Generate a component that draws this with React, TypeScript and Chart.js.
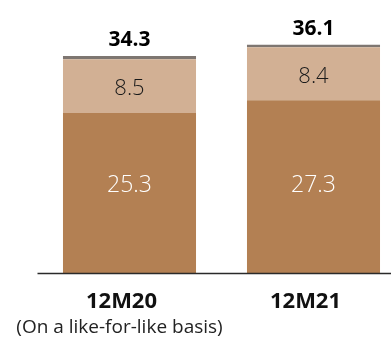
import React, { useEffect, useRef } from "react";
import { Chart, registerables } from "chart.js";

Chart.register(...registerables);

const categories = ["12M20", "12M21"];
const subtitles = ["(On a like-for-like basis)", ""];
const baseValues = [25.3, 27.3];
const midValues = [8.5, 8.4];
const otherValues = [0.5, 0.4];
const totals = [34.3, 36.1];

const DARK = "#B38053";
const LIGHT = "#D2B094";
const GREY = "#7E7671";
const FONT = "'Open Sans', sans-serif";

const labelPlugin = {
  id: "barLabels",
  afterDatasetsDraw(chart: any) {
    const ctx = chart.ctx as CanvasRenderingContext2D;
    const area = chart.chartArea;
    ctx.save();

    // baseline axis
    ctx.strokeStyle = "#2a2a2a";
    ctx.lineWidth = 1.5;
    ctx.beginPath();
    ctx.moveTo(area.left, area.bottom + 0.5);
    ctx.lineTo(area.right, area.bottom + 0.5);
    ctx.stroke();

    ctx.textAlign = "center";
    const m0 = chart.getDatasetMeta(0);
    const m1 = chart.getDatasetMeta(1);
    const m2 = chart.getDatasetMeta(2);

    categories.forEach((cat, i) => {
      const b0 = m0.data[i];
      const b1 = m1.data[i];
      const b2 = m2.data[i];

      // inner segment values
      ctx.textBaseline = "middle";
      ctx.font = `300 23px ${FONT}`;
      ctx.fillStyle = "#ffffff";
      ctx.fillText(baseValues[i].toFixed(1), b0.x, area.bottom - 88);
      ctx.font = `300 22px ${FONT}`;
      ctx.fillStyle = "#1a1a1a";
      ctx.fillText(midValues[i].toFixed(1), b1.x, (b1.y + b1.base) / 2 + 3);

      // totals above the stack
      ctx.textBaseline = "alphabetic";
      ctx.font = `bold 21px ${FONT}`;
      ctx.fillStyle = "#000000";
      ctx.fillText(totals[i].toFixed(1), b2.x, b2.y - 10);

      // category labels
      ctx.textBaseline = "middle";
      ctx.font = `bold 22px ${FONT}`;
      ctx.fillStyle = "#111111";
      ctx.fillText(cat, b0.x - 8, area.bottom + 29);
      if (subtitles[i]) {
        ctx.font = `19px ${FONT}`;
        ctx.fillStyle = "#222222";
        ctx.fillText(subtitles[i], b0.x - 10, area.bottom + 55);
      }
    });
    ctx.restore();
  },
};

export default function App() {
  const ref = useRef<HTMLCanvasElement | null>(null);

  useEffect(() => {
    if (!ref.current) return;
    const chart = new Chart(ref.current, {
      type: "bar",
      data: {
        labels: categories,
        datasets: [
          { data: baseValues, backgroundColor: DARK, borderWidth: 0 },
          { data: midValues, backgroundColor: LIGHT, borderWidth: 0 },
          { data: otherValues, backgroundColor: GREY, borderWidth: 0 },
        ],
      },
      options: {
        animation: false,
        responsive: false,
        devicePixelRatio: 1,
        layout: { padding: { left: 37.5, right: 14.5, top: 20, bottom: 65 } },
        datasets: { bar: { categoryPercentage: 1, barPercentage: 0.723 } },
        plugins: { legend: { display: false }, tooltip: { enabled: false } },
        scales: {
          x: { stacked: true, display: false },
          y: { stacked: true, display: false, min: 0, max: 40 },
        },
      },
      plugins: [labelPlugin],
    });
    return () => chart.destroy();
  }, []);

  return (
    <div
      style={{
        position: "absolute",
        left: 0,
        top: 0,
        width: 391,
        height: 338,
        overflow: "hidden",
        background: "#fff",
      }}
    >
      <canvas ref={ref} width={420} height={338} style={{ display: "block" }} />
    </div>
  );
}
